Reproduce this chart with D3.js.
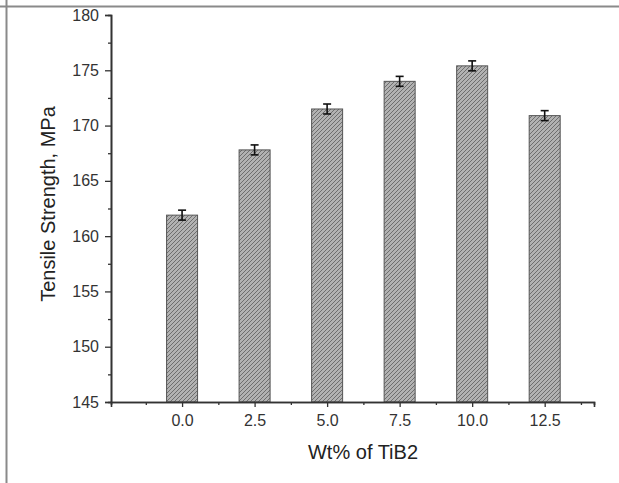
<!DOCTYPE html>
<html>
<head>
<meta charset="utf-8">
<script src="https://cdn.jsdelivr.net/npm/d3@7"></script>
<style>
body { margin: 0; background: #fff; }
svg { display: block; font-family: 'Liberation Sans', Arial, sans-serif; }
</style>
</head>
<body>
<div id="chart"></div>
<script>
'use strict';

// data
var loadings = [0.0, 2.5, 5.0, 7.5, 10.0, 12.5];
var strength = [161.9, 167.8, 171.5, 174.0, 175.4, 170.9];
var errors = [0.45, 0.45, 0.45, 0.45, 0.45, 0.45];
var yTicks = [145, 150, 155, 160, 165, 170, 175, 180];

var width = 619, height = 483;
var margin = {top: 15, right: 25, bottom: 81, left: 111};

var svg = d3.select('#chart').append('svg')
	.attr('width', width)
	.attr('height', height);

// hatch fill for the bars
var defs = svg.append('defs');
var pat = defs.append('pattern')
	.attr('id', 'hatch')
	.attr('patternUnits', 'userSpaceOnUse')
	.attr('width', 4)
	.attr('height', 4);
pat.append('rect').attr('width', 4).attr('height', 4).attr('fill', '#b2b2b2');
pat.append('path')
	.attr('d', 'M-1,1 l2,-2 M0,4 l4,-4 M3,5 l2,-2')
	.attr('stroke', '#6e6e6e')
	.attr('stroke-width', 1);

// picture frame (top and left edge)
svg.append('line').attr('x1', 0).attr('x2', width).attr('y1', 6.5).attr('y2', 6.5)
	.attr('stroke', '#8a8a8a').attr('stroke-width', 2);
svg.append('line').attr('x1', 6.5).attr('x2', 6.5).attr('y1', 0).attr('y2', height)
	.attr('stroke', '#8a8a8a').attr('stroke-width', 2);

var xscale = d3.scaleLinear()
	.domain([-2.45, 14.2])
	.range([margin.left, width - margin.right]);

var yscale = d3.scaleLinear()
	.domain([145, 180])
	.range([height - margin.bottom, margin.top]);

var barW = 31;

var g = svg.append('g');

g.selectAll('.bar')
	.data(loadings)
.enter().append('rect')
	.attr('class', 'bar')
	.attr('x', function(d) { return xscale(d) - barW / 2; })
	.attr('y', function(d, i) { return yscale(strength[i]); })
	.attr('width', barW)
	.attr('height', function(d, i) { return yscale(145) - yscale(strength[i]); })
	.attr('fill', 'url(#hatch)')
	.attr('stroke', '#555')
	.attr('stroke-width', 1);

// error bars
var eb = g.selectAll('.err')
	.data(loadings)
.enter().append('g')
	.attr('class', 'err')
	.attr('stroke', '#111')
	.attr('stroke-width', 1.6);

eb.append('line')
	.attr('x1', function(d) { return xscale(d); })
	.attr('x2', function(d) { return xscale(d); })
	.attr('y1', function(d, i) { return yscale(strength[i] + errors[i]); })
	.attr('y2', function(d, i) { return yscale(strength[i] - errors[i]); });
eb.append('line')
	.attr('x1', function(d) { return xscale(d) - 4; })
	.attr('x2', function(d) { return xscale(d) + 4; })
	.attr('y1', function(d, i) { return yscale(strength[i] + errors[i]); })
	.attr('y2', function(d, i) { return yscale(strength[i] + errors[i]); });
eb.append('line')
	.attr('x1', function(d) { return xscale(d) - 4; })
	.attr('x2', function(d) { return xscale(d) + 4; })
	.attr('y1', function(d, i) { return yscale(strength[i] - errors[i]); })
	.attr('y2', function(d, i) { return yscale(strength[i] - errors[i]); });

// minor ticks
var xMinor = loadings.map(function(d) { return d + 1.25; }).concat([-1.25]);
var yMinor = yTicks.slice(0, -1).map(function(d) { return d + 2.5; });

var xAxisG = svg.append('g')
	.attr('transform', 'translate(0,' + yscale(145) + ')');
xAxisG.append('g')
	.call(d3.axisBottom(xscale).tickValues(xMinor).tickSize(3).tickFormat(''));
xAxisG.append('g')
	.call(d3.axisBottom(xscale).tickValues(loadings).tickSize(5).tickPadding(8)
		.tickFormat(d3.format('.1f')));

var yAxisG = svg.append('g')
	.attr('transform', 'translate(' + margin.left + ',0)');
yAxisG.append('g')
	.call(d3.axisLeft(yscale).tickValues(yMinor).tickSize(3).tickFormat(''));
yAxisG.append('g')
	.call(d3.axisLeft(yscale).tickValues(yTicks).tickSize(6).tickPadding(6)
		.tickFormat(d3.format('d')));

svg.selectAll('.domain').attr('stroke', '#333').attr('stroke-width', 1.6);
svg.selectAll('.tick line').attr('stroke', '#333').attr('stroke-width', 1.3);
svg.selectAll('.tick text')
	.attr('fill', '#333')
	.attr('font-size', 16)
	.style('font-size', '16px')
	.style('font-family', "'Liberation Sans', Arial, sans-serif");

svg.append('text')
	.attr('x', 363)
	.attr('y', 459)
	.attr('text-anchor', 'middle')
	.attr('fill', '#222')
	.style('font-size', '20px')
	.text('Wt% of TiB2');

svg.append('text')
	.attr('transform', 'translate(55,204) rotate(-90)')
	.attr('text-anchor', 'middle')
	.attr('fill', '#222')
	.style('font-size', '20px')
	.text('Tensile Strength, MPa');
</script>
</body>
</html>
